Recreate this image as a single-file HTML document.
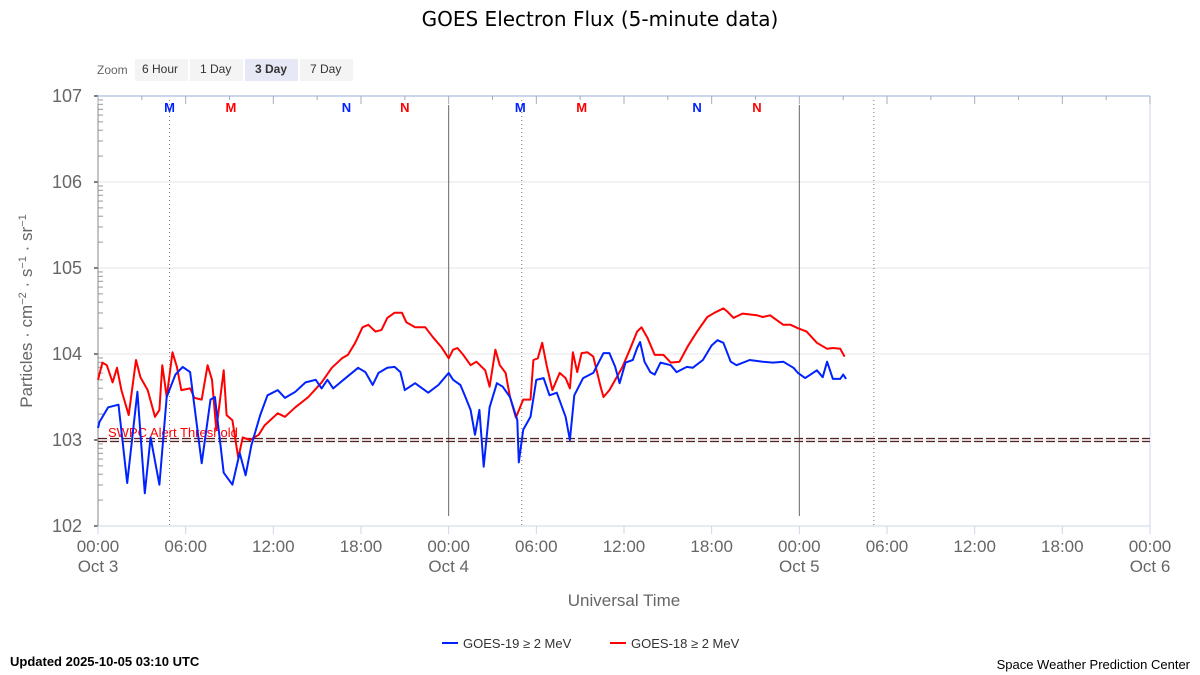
<!DOCTYPE html>
<html><head><meta charset="utf-8"><style>
body{margin:0;background:#fff;}
svg{display:block;font-family:"Liberation Sans","DejaVu Sans",sans-serif;}
</style></head><body>
<svg id="chart" width="1200" height="675" viewBox="0 0 1200 675" xmlns="http://www.w3.org/2000/svg">
<text x="600" y="26" text-anchor="middle" font-size="20" fill="#000" font-family="DejaVu Sans, sans-serif">GOES Electron Flux (5-minute data)</text>
<g font-size="12" fill="#333">
<text x="97" y="74" fill="#666">Zoom</text>
<rect x="135" y="59" width="53" height="22" fill="#f4f4f4"/><text x="142" y="73">6 Hour</text>
<rect x="190" y="59" width="53" height="22" fill="#f4f4f4"/><text x="200" y="73">1 Day</text>
<rect x="245" y="59" width="53" height="22" fill="#e6e9f5"/><text x="255" y="73" font-weight="bold">3 Day</text>
<rect x="300" y="59" width="53" height="22" fill="#f4f4f4"/><text x="310" y="73">7 Day</text>
</g>
<g id="grid"></g>
<g id="axes"></g>
<g id="series"></g>
<text transform="translate(32,311) rotate(-90)" text-anchor="middle" font-size="17" fill="#666">Particles · cm<tspan dy="-6" font-size="11">−2</tspan><tspan dy="6"> · s</tspan><tspan dy="-6" font-size="11">−1</tspan><tspan dy="6"> · sr</tspan><tspan dy="-6" font-size="11">−1</tspan></text>
<text x="624" y="606" text-anchor="middle" font-size="17" fill="#666">Universal Time</text>
<g font-size="13" fill="#333">
<g><line x1="442" y1="643" x2="458" y2="643" stroke="#0022ff" stroke-width="2"/><text x="463" y="648">GOES-19 ≥ 2 MeV</text></g>
<g><line x1="610" y1="643" x2="626" y2="643" stroke="#ff0000" stroke-width="2"/><text x="631" y="648">GOES-18 ≥ 2 MeV</text></g>
</g>
<text x="10" y="666" font-size="13" font-weight="bold" fill="#000">Updated 2025-10-05 03:10 UTC</text>
<text x="1190" y="669" text-anchor="end" font-size="13" fill="#000">Space Weather Prediction Center</text>
</svg>
<script>
const g19Hours=[0,0.1,0.7,1.4,2.0,2.7,3.2,3.6,4.2,4.7,5.3,5.8,6.3,7.1,7.7,8.0,8.6,9.2,9.7,10.1,10.5,11.1,11.6,12.3,12.8,13.5,14.2,14.9,15.3,15.7,16.1,16.8,17.8,18.3,18.8,19.2,19.8,20.3,20.7,21.0,21.7,22.6,23.3,24.0,24.3,24.8,25.1,25.5,25.8,26.1,26.4,26.8,27.3,27.7,28.2,28.7,28.8,29.1,29.6,30.0,30.5,30.9,31.4,32.0,32.3,32.6,33.2,33.9,34.6,35.0,35.4,35.7,36.1,36.6,36.9,37.1,37.4,37.8,38.1,38.5,39.2,39.6,40.3,40.7,41.4,42.0,42.4,42.8,43.3,43.7,44.6,45.5,46.2,46.9,47.6,47.9,48.4,49.2,49.6,49.9,50.3,50.8,51.0,51.2];
const g19Log=[3.14,3.21,3.38,3.41,2.50,3.56,2.38,3.03,2.48,3.50,3.76,3.85,3.79,2.73,3.47,3.50,2.62,2.48,2.85,2.59,2.94,3.29,3.52,3.58,3.49,3.56,3.67,3.70,3.60,3.70,3.60,3.70,3.84,3.79,3.64,3.78,3.84,3.85,3.79,3.58,3.66,3.55,3.64,3.78,3.70,3.64,3.52,3.35,3.06,3.35,2.69,3.38,3.66,3.62,3.50,3.23,2.74,3.12,3.27,3.70,3.72,3.52,3.55,3.27,3.00,3.52,3.72,3.78,4.01,4.01,3.85,3.66,3.90,3.93,4.07,4.14,3.91,3.79,3.76,3.90,3.87,3.79,3.85,3.84,3.93,4.10,4.16,4.13,3.91,3.87,3.93,3.91,3.90,3.91,3.84,3.78,3.72,3.81,3.73,3.91,3.71,3.71,3.76,3.71];
const g18Hours=[0,0.3,0.6,1.0,1.3,1.6,2.1,2.6,2.9,3.4,3.9,4.2,4.4,4.7,5.1,5.4,5.7,6.3,6.6,7.1,7.5,7.8,8.1,8.6,8.8,9.2,9.6,9.9,10.4,11.0,11.4,12.3,12.8,13.5,14.4,15.3,16.0,16.7,17.1,17.6,18.1,18.5,19.0,19.4,19.8,20.3,20.8,21.1,21.7,22.4,22.9,23.5,24.0,24.3,24.6,25.0,25.5,25.9,26.5,26.8,27.2,27.5,27.9,28.2,28.6,29.1,29.6,29.8,30.1,30.4,30.7,31.1,31.6,32.0,32.3,32.5,32.8,33.1,33.5,33.9,34.4,34.6,35.0,35.5,35.9,36.4,36.9,37.2,37.6,38.1,38.7,39.2,39.8,40.4,41.0,41.7,42.2,42.8,43.1,43.5,44.1,45.1,45.5,46.0,46.9,47.4,47.9,48.5,49.2,49.9,50.3,50.8,51.1];
const g18Log=[3.70,3.90,3.87,3.67,3.84,3.58,3.29,3.93,3.73,3.58,3.27,3.35,3.87,3.50,4.02,3.85,3.58,3.60,3.49,3.47,3.87,3.70,3.12,3.81,3.29,3.23,2.79,3.03,3.00,3.06,3.17,3.31,3.27,3.38,3.50,3.67,3.84,3.95,3.99,4.13,4.31,4.34,4.26,4.28,4.42,4.48,4.48,4.37,4.31,4.31,4.20,4.08,3.95,4.05,4.07,3.99,3.87,3.91,3.81,3.62,4.05,3.87,3.78,3.50,3.26,3.47,3.47,3.93,3.95,4.13,3.87,3.58,3.78,3.72,3.60,4.02,3.79,4.01,4.02,3.97,3.62,3.50,3.58,3.73,3.85,4.05,4.26,4.31,4.19,3.99,3.99,3.90,3.91,4.10,4.26,4.43,4.48,4.53,4.49,4.42,4.47,4.45,4.43,4.45,4.34,4.34,4.30,4.26,4.13,4.06,4.07,4.06,3.97];
const yTicks=[2,3,4,5,6,7];
const xTickHours=[0,6,12,18,24,30,36,42,48,54,60,66,72];
const xTickLabels=["00:00","06:00","12:00","18:00","00:00","06:00","12:00","18:00","00:00","06:00","12:00","18:00","00:00"];
const dayLabels=["Oct 3","Oct 4","Oct 5","Oct 6"];
const markerHours=[4.9,9.1,17.0,21.0,28.9,33.1,41.0,45.1];
const markerLetters=["M","M","N","N","M","M","N","N"];
const markerSat=["19","18","19","18","19","18","19","18"];
const dottedHours=[4.9,29.0,53.1];
const thresholdLog=3;

const X0=98,X1=1150,Y0=526,Y1=96;
const xs=h=>X0+(X1-X0)*h/72;
const ys=l=>Y0-(Y0-Y1)*(l-2)/5;
const NS="http://www.w3.org/2000/svg";
function mk(tag,attrs,parent){const e=document.createElementNS(NS,tag);for(const k in attrs)e.setAttribute(k,attrs[k]);parent.appendChild(e);return e;}
const grid=document.getElementById('grid'),axes=document.getElementById('axes'),series=document.getElementById('series');

yTicks.forEach(t=>{
  const y=ys(t);
  if(t>2&&t<7){const l=mk('line',{x1:X0,x2:X1,y1:y,y2:y,stroke:'#e6e6e6'},grid);
  
  }
  const tx=mk('text',{x:82,y:y+6,'text-anchor':'end','font-size':18,fill:'#666'},axes);
  tx.textContent='10'+t;
  
  
  mk('line',{x1:X0-4,x2:X0,y1:y,y2:y,stroke:'#000'},axes);
  if(t<7){for(let m=2;m<10;m++){const yy=ys(t+Math.log10(m));mk('line',{x1:X0,x2:X0+5,y1:yy,y2:yy,stroke:'#999'},axes);}}
});
mk('line',{x1:X0,x2:X1,y1:Y1,y2:Y1,stroke:'#ccd6eb','stroke-width':2},axes);
mk('line',{x1:X1,x2:X1,y1:Y1,y2:Y0,stroke:'#ccd6eb'},axes);
mk('line',{x1:X0,x2:X0,y1:Y1,y2:Y0,stroke:'#888'},axes);
mk('line',{x1:X0,x2:X1,y1:Y0,y2:Y0,stroke:'#ccd6eb'},axes);
for(let h=0;h<=72;h+=3){mk('line',{x1:xs(h),x2:xs(h),y1:Y1,y2:Y1+(h%6?4:8),stroke:'#aab'},axes);}
xTickHours.forEach((h,i)=>{
  const x=xs(h);
  mk('line',{x1:x,x2:x,y1:Y0,y2:Y0+8,stroke:'#ccd6eb'},axes);
  const t=mk('text',{x:x,y:552,'text-anchor':'middle','font-size':17,fill:'#666'},axes);
  t.textContent=xTickLabels[i];
  
  
  if(h%24===0){const d=mk('text',{x:x,y:572,'text-anchor':'middle','font-size':17,fill:'#666'},axes);
  d.textContent=dayLabels[h/24];
  
  
  if(h>0&&h<72){const v=mk('line',{x1:x,x2:x,y1:105,y2:516,stroke:'#666'},grid);
  
  }}
});
dottedHours.forEach(h=>{const v=mk('line',{x1:xs(h),x2:xs(h),y1:100,y2:Y0,stroke:'#777','stroke-dasharray':'1,3'},grid);

});
markerHours.forEach((h,i)=>{
  const t=mk('text',{x:xs(h),y:112,'text-anchor':'middle','font-size':13,'font-weight':'bold',fill:markerSat[i]==='19'?'#0022ff':'#ff0000'},axes);
  t.textContent=markerLetters[i];
  
  
});
const ty=ys(thresholdLog);
[ty-1.5,ty+1.5].forEach(y=>{const l=mk('line',{x1:X0,x2:X1,y1:y,y2:y,stroke:'#552222','stroke-width':1.2,'stroke-dasharray':'9,3'},series);

});
const tt=mk('text',{x:108,y:ty-3,'font-size':13,fill:'#ff0000'},series);
tt.textContent='SWPC Alert Threshold';


function line(hrs,vals,color,name){
  const d=hrs.map((h,i)=>(i?'L':'M')+xs(h).toFixed(1)+','+ys(vals[i]).toFixed(1)).join('');
  const p=mk('path',{d:d,fill:'none',stroke:color,'stroke-width':2,'stroke-linejoin':'round'},series);
  
  
}
line(g18Hours,g18Log,'#ff0000','goes18-line');
line(g19Hours,g19Log,'#0022ff','goes19-line');
</script>
</body></html>
